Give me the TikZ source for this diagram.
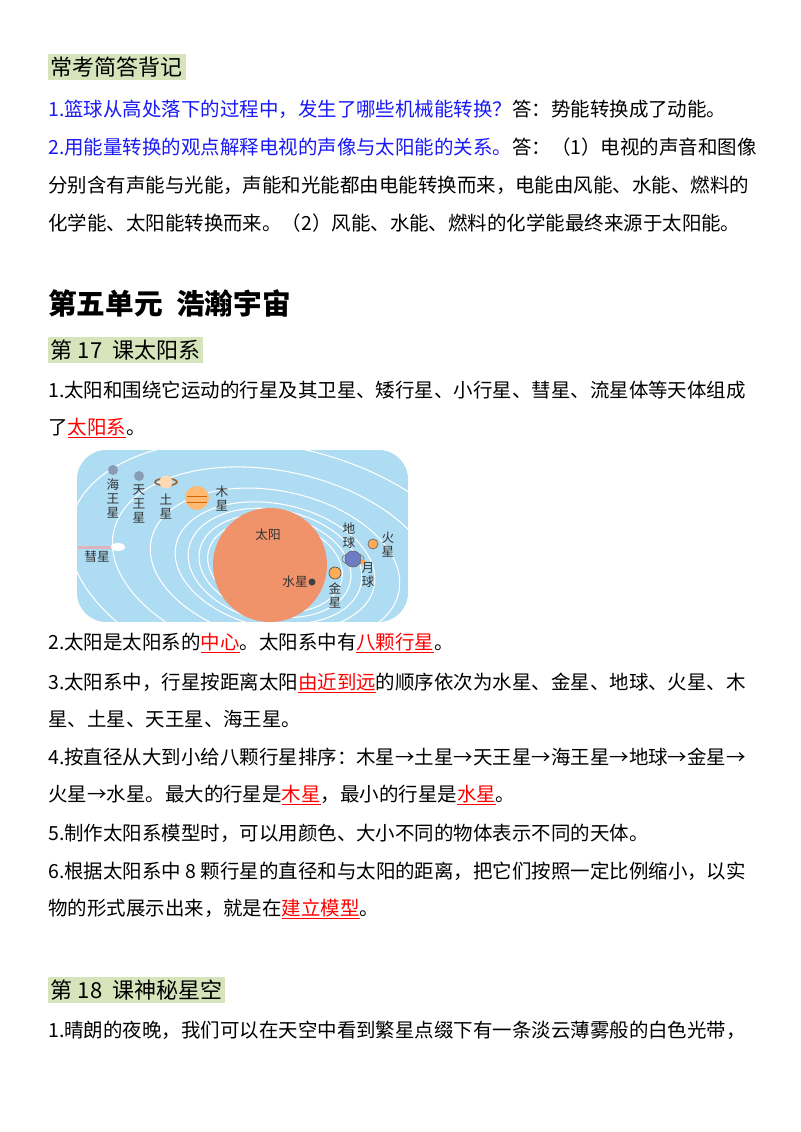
\documentclass[tikz,border=0pt]{standalone}
\usepackage{fontspec}
\setmainfont{Noto Sans CJK SC}
\definecolor{qblue}{HTML}{1A1AF5}
\definecolor{hdr}{HTML}{D6E4BC}
\definecolor{sky}{HTML}{AEDCF2}
\definecolor{sunc}{HTML}{F0926A}
\definecolor{pgray}{HTML}{8A9BB5}
\newcommand\ans[1]{\textcolor{red}{\underline{#1}}}
\begin{document}
\begin{tikzpicture}[x=0.75pt,y=-0.75pt,
  txt/.style={anchor=west,inner sep=0pt,font=\fontsize{14.6pt}{16pt}\selectfont},
  hbox/.style={fill=hdr,anchor=west,inner sep=2pt,font=\fontsize{16.5pt}{18pt}\selectfont},
  lbl/.style={inner sep=0pt,font=\fontsize{9.5pt}{10.5pt}\selectfont,align=center,text=black!80},
  orb/.style={draw=white,line width=0.8pt}]
\useasboundingbox (0,0) rectangle (800,1132);
\fill[white] (0,0) rectangle (800,1132);
\node[hbox] (h1) at (48,67) {常考简答背记};
\node[txt] (l1) at (48,109) {\textcolor{qblue}{1.篮球从高处落下的过程中，发生了哪些机械能转换？}答：势能转换成了动能。};
\node[txt] (l2) at (48,147) {\textcolor{qblue}{2.用能量转换的观点解释电视的声像与太阳能的关系。}答：（1）电视的声音和图像};
\node[txt] (l3) at (48,185) {分别含有声能与光能，声能和光能都由电能转换而来，电能由风能、水能、燃料的};
\node[txt] (l4) at (48,223) {化学能、太阳能转换而来。（2）风能、水能、燃料的化学能最终来源于太阳能。};
\node[anchor=west,inner sep=0pt,font=\fontsize{21.5pt}{24pt}\selectfont\bfseries] (u5) at (48,303) {第五单元\ \ 浩瀚宇宙};
\node[hbox] (h17) at (48,350) {第 17\ \ 课太阳系};
\node[txt] (a1) at (48,390) {1.太阳和围绕它运动的行星及其卫星、矮行星、小行星、彗星、流星体等天体组成};
\node[txt] (a1b) at (48,428) {了\ans{太阳系}。};
% picture
\begin{scope}
\clip[rounded corners=22pt] (77,450) rectangle (408,622);
\fill[sky] (77,450) rectangle (408,622);
\foreach \r/\s in {62/45,70/50,80/56,92/62,115/75,150/95,190/120,240/150,300/185}
  \draw[orb,rotate around={-12:(275,566)}] (275,566) ellipse ({\r*1.1} and \s);
\fill[sunc] (270,565) circle (57);
\fill[pgray] (113,470) circle (5);
\fill[pgray] (139,476) circle (5);
\draw[brown!80!black,line width=1.2pt] (166,482) ellipse (11 and 3.5);
\fill[orange!30] (166,482) circle (6.5);
\fill[orange!55] (197,498) circle (12);
\draw[orange!80!black,line width=0.6pt] (187,496)--(207,496) (187,502)--(207,502);
\fill[orange!65,draw=black!60,line width=0.5pt] (373,544) circle (5);
\draw[black!60] (353,559) ellipse (11 and 6);
\fill[pgray!80!blue,draw=black!60,line width=0.5pt] (353,559) circle (8);
\fill[orange!70] (363,562) circle (2.5);
\fill[orange!65,draw=black!70,line width=0.5pt] (335,573) circle (6);
\fill[gray!50!black] (312,582) circle (3.5);
\fill[pink!80!red,opacity=0.6] (78,546) rectangle (112,549);
\fill[white] (118,547) ellipse (7 and 4);
\end{scope}
\node[lbl] (t1) at (113,499) {海\\王\\星};
\node[lbl] (t2) at (139,504) {天\\王\\星};
\node[lbl] (t3) at (166,507) {土\\星};
\node[lbl] (t4) at (222,499) {木\\星};
\node[lbl] (t5) at (268,535) {太阳};
\node[lbl] (t6) at (349,536) {地\\球};
\node[lbl] (t7) at (388,545) {火\\星};
\node[lbl] (t8) at (295,582) {水星};
\node[lbl] (t9) at (335,595) {金\\星};
\node[lbl] (t10) at (368,575) {月\\球};
\node[lbl] (t11) at (97,557) {彗星};
\node[txt] (a2) at (48,643) {2.太阳是太阳系的\ans{中心}。太阳系中有\ans{八颗行星}。};
\node[txt] (a3) at (48,683) {3.太阳系中，行星按距离太阳\ans{由近到远}的顺序依次为水星、金星、地球、火星、木};
\node[txt] (a3b) at (48,719) {星、土星、天王星、海王星。};
\node[txt] (a4) at (48,757) {4.按直径从大到小给八颗行星排序：木星→土星→天王星→海王星→地球→金星→};
\node[txt] (a4b) at (48,795) {火星→水星。最大的行星是\ans{木星}，最小的行星是\ans{水星}。};
\node[txt] (a5) at (48,833) {5.制作太阳系模型时，可以用颜色、大小不同的物体表示不同的天体。};
\node[txt] (a6) at (48,871) {6.根据太阳系中 8 颗行星的直径和与太阳的距离，把它们按照一定比例缩小，以实};
\node[txt] (a6b) at (48,909) {物的形式展示出来，就是在\ans{建立模型}。};
\node[hbox] (h18) at (48,990) {第 18\ \ 课神秘星空};
\node[txt] (b1) at (48,1030) {1.晴朗的夜晚，我们可以在天空中看到繁星点缀下有一条淡云薄雾般的白色光带，};
\end{tikzpicture}
\end{document}
